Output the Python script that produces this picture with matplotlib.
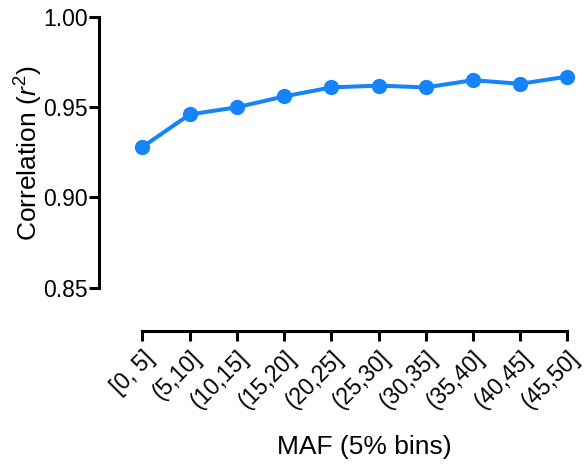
import matplotlib
matplotlib.use("Agg")
import matplotlib.pyplot as plt

# ── data ──
bins = ["[0, 5]", "(5,10]", "(10,15]", "(15,20]", "(20,25]",
        "(25,30]", "(30,35]", "(35,40]", "(40,45]", "(45,50]"]
r2 = [0.928, 0.946, 0.950, 0.956, 0.961, 0.962, 0.961, 0.965, 0.963, 0.967]
yticks = [0.85, 0.90, 0.95, 1.00]

plt.rcParams["font.family"] = ["Liberation Sans", "DejaVu Sans"]
plt.rcParams["mathtext.fontset"] = "custom"
plt.rcParams["mathtext.rm"] = "Liberation Sans"
plt.rcParams["mathtext.it"] = "Liberation Sans:italic"

blue = "#1583FA"
W, H = 586, 468
fig = plt.figure(figsize=(W / 100, H / 100), dpi=100)
ax = fig.add_axes([99 / W, (H - 331) / H, 476 / W, 321 / H])

x = list(range(len(bins)))
ax.plot(x, r2, color=blue, lw=2.9, marker="o", ms=10, clip_on=False)

ax.set_xlim(-0.92, 9.16)
ax.set_ylim(0.826, 1.0039)
ax.set_yticks(yticks)
ax.set_yticklabels([f"{v:.2f}" for v in yticks])
ax.set_xticks(x)
ax.set_xticklabels(bins, rotation=45, ha="right", va="top",
                   rotation_mode="anchor")

for side in ("top", "right"):
    ax.spines[side].set_visible(False)
ax.spines["left"].set_bounds(0.85, 1.0)
ax.spines["bottom"].set_bounds(0, 9)
for side in ("left", "bottom"):
    ax.spines[side].set_linewidth(2.2)
ax.tick_params(axis="both", length=7, width=2.2, labelsize=16.5, color="black")
ax.tick_params(axis="y", pad=1)
ax.tick_params(axis="x", pad=4)

ax.set_xlabel("MAF (5% bins)", fontsize=19)
ax.set_ylabel(r"Correlation ($r^2$)", fontsize=19)
ax.xaxis.label.set_va("center")
ax.yaxis.label.set_va("center")
ax.xaxis.set_label_coords(0.557, -0.361)
ax.yaxis.set_label_coords(-0.147, 0.5545)

fig.savefig("out.png", dpi=100)
